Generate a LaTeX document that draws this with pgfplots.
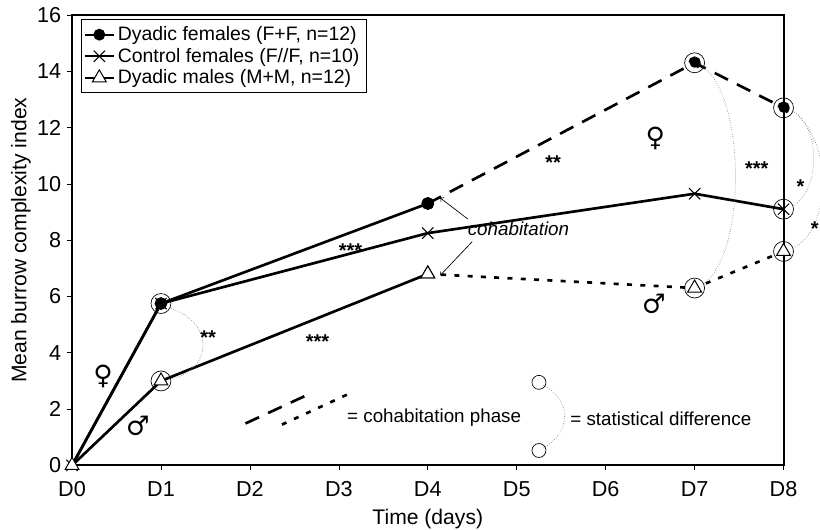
\documentclass[border=0pt]{standalone}
\usepackage{fontspec}
\setmainfont{Liberation Sans}
\newfontfamily\symfont{DejaVu Serif}
\usepackage{pgfplots}
\pgfplotsset{compat=1.18}

\begin{document}
\begin{tikzpicture}
\begin{axis}[
    scale only axis,
    width=428pt, height=271pt,
    xmin=0, xmax=8, ymin=0, ymax=16,
    xtick={0,...,8},
    xticklabels={D0,D1,D2,D3,D4,D5,D6,D7,D8},
    ytick={0,2,...,16},
    xtick pos=bottom, ytick pos=left,
    tick align=outside,
    major tick length=3pt,
    tick style={black, thin},
    axis line style={line width=1.2pt},
    /pgf/number format/assume math mode=true,
    ticklabel style={font=\fontsize{13}{15}\selectfont},
    xticklabel style={yshift=-3pt},
    label style={font=\fontsize{12.7}{15}\selectfont},
    xlabel={Time (days)},
    ylabel={Mean burrow complexity index},
    xlabel style={yshift=-1pt},
    ylabel style={yshift=-3pt},
    clip=false,
    legend style={at={(0.012,0.99)}, anchor=north west, draw=black, thin,
        font=\fontsize{11.7}{14}\selectfont, row sep=-1pt, inner sep=2pt},
    legend cell align=left,
    legend image post style={line width=1.1pt},
]
% Dyadic females: solid then dashed after cohabitation
\addplot[black, line width=1.6pt, mark=*, mark size=3pt] coordinates {
    (1,5.75) (4,9.3)
};
\addlegendentry{Dyadic females (F+F, n=12)}
\addplot[black, line width=1.6pt, forget plot] coordinates {(0,0) (1,5.75)};
\addplot[black, line width=1.6pt, dash pattern=on 9pt off 6pt, mark=*, mark size=3pt, forget plot] coordinates {
    (4,9.3) (7,14.3) (8,12.7)
};
% Control females
\addplot[black, line width=1.6pt, mark=x, mark size=4.8pt, mark options={line width=0.6pt}] coordinates {
    (0,0) (1,5.75) (4,8.25) (7,9.65) (8,9.1)
};
\addlegendentry{Control females (F//F, n=10)}
% Dyadic males
\addplot[black, line width=1.6pt, mark=triangle*, mark size=4.8pt, mark options={fill=white, line width=0.6pt}] coordinates {
    (0,0) (1,3.0) (4,6.8)
};
\addlegendentry{Dyadic males (M+M, n=12)}
\addplot[black, line width=1.6pt, dash pattern=on 3pt off 5pt, mark=triangle*, mark size=4.8pt, mark options={fill=white, solid, line width=0.6pt}, forget plot] coordinates {
    (4,6.8) (7,6.3) (8,7.6)
};
% circles marking compared points
\addplot[only marks, mark=o, mark size=6pt, black, thin, forget plot] coordinates {
    (1,5.75) (1,3.0) (7,14.3) (7,6.3) (8,12.7) (8,9.1) (8,7.6)
};
% key circles
\addplot[only marks, mark=o, mark size=4.2pt, black, thin, forget plot] coordinates {
    (5.25,2.95) (5.25,0.53)
};
% key lines for cohabitation phase
\addplot[black, line width=1.6pt, dash pattern=on 9pt off 6pt, forget plot] coordinates {(1.95,1.49) (2.65,2.51)};
\addplot[black, line width=1.6pt, dash pattern=on 3pt off 5pt, forget plot] coordinates {(2.36,1.45) (3.09,2.51)};

% statistical difference arcs
\draw[gray, densely dotted, thin] (axis cs:1.09,5.6) .. controls (axis cs:1.6,5.1) and (axis cs:1.6,3.4) .. (axis cs:1.09,3.05);
\draw[gray, densely dotted, thin] (axis cs:7.1,14.15) .. controls (axis cs:7.58,13) and (axis cs:7.58,7.5) .. (axis cs:7.1,6.45);
\draw[gray, densely dotted, thin] (axis cs:8.1,12.6) .. controls (axis cs:8.42,12) and (axis cs:8.42,9.8) .. (axis cs:8.1,9.2);
\draw[gray, densely dotted, thin] (axis cs:8.12,12.55) .. controls (axis cs:8.55,11.5) and (axis cs:8.55,8.4) .. (axis cs:8.1,7.7);
\draw[gray, densely dotted, thin] (axis cs:5.3,2.85) .. controls (axis cs:5.62,2.3) and (axis cs:5.62,1.2) .. (axis cs:5.3,0.62);

% significance stars
\begin{scope}[font=\fontsize{12}{13}\selectfont\bfseries]
\node at (axis cs:1.53,4.55) {**};
\node at (axis cs:2.76,4.4) {***};
\node at (axis cs:3.13,7.63) {***};
\node at (axis cs:5.41,10.75) {**};
\node at (axis cs:7.7,10.55) {***};
\node at (axis cs:8.19,9.9) {*};
\node at (axis cs:8.35,8.4) {*};
\end{scope}

% sex symbols
\begin{scope}[font=\symfont\fontsize{16}{17}\selectfont\bfseries]
\node at (axis cs:0.35,3.15) {♀};
\node at (axis cs:6.56,11.6) {♀};
\node at (axis cs:0.74,1.4) {♂};
\node at (axis cs:6.54,5.73) {♂};
\end{scope}

% cohabitation label
\node[font=\fontsize{11.3}{13}\selectfont\itshape] at (axis cs:5.02,8.39) {cohabitation};
\draw[->, thin] (axis cs:4.45,8.75) -- (axis cs:4.14,9.5);
\draw[->, thin] (axis cs:4.5,7.95) -- (axis cs:4.14,6.75);

% key texts
\node[anchor=west, inner sep=0pt, font=\fontsize{11.3}{13}\selectfont] at (axis cs:3.09,1.7) {= cohabitation phase};
\node[anchor=west, inner sep=0pt, font=\fontsize{11.3}{13}\selectfont] at (axis cs:5.6,1.66) {= statistical difference};

\coordinate (bbl) at (axis cs:-0.81,-2.27);
\coordinate (btr) at (axis cs:8.41,16.53);
\end{axis}
\pgfresetboundingbox
\useasboundingbox (bbl) rectangle (btr);
\end{tikzpicture}
\end{document}
